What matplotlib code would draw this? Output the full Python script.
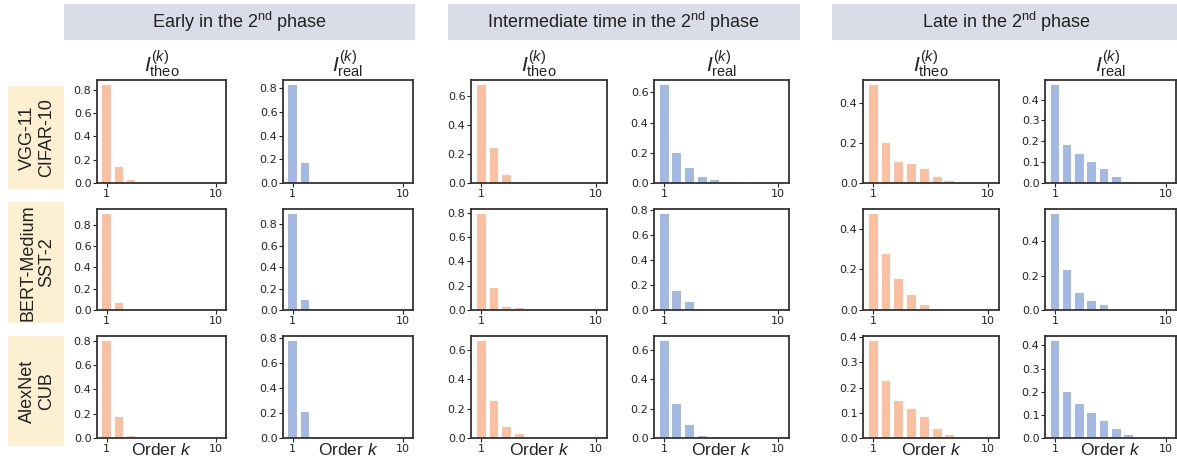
import matplotlib
matplotlib.use("Agg")
import matplotlib.pyplot as plt
from matplotlib.patches import Rectangle
from matplotlib.ticker import MultipleLocator, FixedLocator
import numpy as np

plt.rcParams['mathtext.fontset'] = 'custom'
plt.rcParams['mathtext.rm'] = 'Liberation Sans'
plt.rcParams['mathtext.it'] = 'Liberation Sans:italic'

# ---- data (order k = 1..10) ----
orders = np.arange(1, 11)
phases = ['Early in the 2$^{\\rm nd}$ phase',
          'Intermediate time in the 2$^{\\rm nd}$ phase',
          'Late in the 2$^{\\rm nd}$ phase']
models = ['VGG-11\nCIFAR-10', 'BERT-Medium\nSST-2', 'AlexNet\nCUB']

vgg_theo = [[0.84, 0.135, 0.022, 0.003, 0, 0, 0, 0, 0, 0],
            [0.68, 0.245, 0.055, 0.01, 0.003, 0.002, 0, 0, 0, 0],
            [0.49, 0.20, 0.105, 0.095, 0.07, 0.03, 0.008, 0.003, 0.002, 0]]
vgg_real = [[0.83, 0.167, 0.002, 0, 0, 0, 0, 0, 0, 0],
            [0.65, 0.20, 0.10, 0.04, 0.02, 0.005, 0.004, 0.003, 0, 0],
            [0.47, 0.18, 0.138, 0.103, 0.065, 0.027, 0.007, 0, 0, 0]]
bert_theo = [[0.905, 0.065, 0.012, 0, 0, 0, 0, 0, 0, 0],
             [0.79, 0.18, 0.022, 0.015, 0.005, 0, 0, 0, 0, 0],
             [0.475, 0.275, 0.155, 0.075, 0.025, 0.005, 0.003, 0.002, 0, 0]]
bert_real = [[0.90, 0.09, 0.002, 0, 0, 0, 0, 0, 0, 0],
             [0.767, 0.155, 0.065, 0.01, 0.001, 0, 0, 0, 0, 0],
             [0.56, 0.235, 0.10, 0.055, 0.03, 0.008, 0, 0, 0, 0]]
alex_theo = [[0.80, 0.175, 0.02, 0, 0, 0, 0, 0, 0, 0],
             [0.66, 0.25, 0.072, 0.025, 0.005, 0.004, 0, 0, 0, 0],
             [0.385, 0.225, 0.148, 0.115, 0.082, 0.037, 0.012, 0.004, 0.002, 0.001]]
alex_real = [[0.78, 0.21, 0.005, 0, 0, 0, 0, 0, 0, 0],
             [0.66, 0.23, 0.09, 0.015, 0.006, 0.003, 0.002, 0.002, 0, 0],
             [0.42, 0.20, 0.145, 0.11, 0.072, 0.037, 0.015, 0.002, 0.001, 0]]

theo = [vgg_theo, bert_theo, alex_theo]
real = [vgg_real, bert_real, alex_real]

# y tick step for each panel (rows x 6 columns)
ystep = [[0.2, 0.2, 0.2, 0.2, 0.2, 0.1],
         [0.2, 0.2, 0.2, 0.2, 0.2, 0.2],
         [0.2, 0.2, 0.2, 0.2, 0.1, 0.1]]

theo_color = '#FBBFA2'
real_color = '#A3B8E2'
header_color = '#D9DDE8'
label_bg = '#FDF0D2'
text_color = '#222222'

W, H = 1177, 462
fig = plt.figure(figsize=(W / 100, H / 100), dpi=100)

# axes positions in pixels
col_x = [(97, 226), (283, 413), (471, 607), (654, 789), (863, 999), (1045, 1176)]
row_y = [(80, 183), (209, 310), (336, 438)]


def px_rect(x0, x1, y0, y1):
    return [x0 / W, 1 - y1 / H, (x1 - x0) / W, (y1 - y0) / H]


# header boxes
header_x = [(64, 415), (448, 800), (832, 1180)]
for (x0, x1), title in zip(header_x, phases):
    fig.patches.append(Rectangle((x0 / W, 1 - 40 / H), (x1 - x0) / W, 36 / H,
                                 transform=fig.transFigure, facecolor=header_color,
                                 edgecolor='none', zorder=0))
    fig.text((x0 + x1) / 2 / W, 1 - 22 / H, title, ha='center', va='center',
             fontsize=13, family='Liberation Sans', color=text_color)

# row label boxes
label_y = [(86, 189), (202, 323), (336, 446)]
for (y0, y1), name in zip(label_y, models):
    fig.patches.append(Rectangle((8 / W, 1 - y1 / H), 56 / W, (y1 - y0) / H,
                                 transform=fig.transFigure, facecolor=label_bg,
                                 edgecolor='none', zorder=0))
    fig.text(37 / W, 1 - (y0 + y1) / 2 / H, name, ha='center', va='center',
             rotation=90, fontsize=13, family='Liberation Sans', color=text_color,
             linespacing=1.15)

for r in range(3):
    for c in range(6):
        p = c // 2
        is_theo = (c % 2 == 0)
        vals = theo[r][p] if is_theo else real[r][p]
        color = theo_color if is_theo else real_color
        ax = fig.add_axes(px_rect(col_x[c][0], col_x[c][1], row_y[r][0], row_y[r][1]))
        ax.bar(orders, vals, width=0.7, color=color)
        ax.set_xlim(0.2, 10.85)
        ax.xaxis.set_major_locator(FixedLocator([1, 10]))
        ax.yaxis.set_major_locator(MultipleLocator(ystep[r][c]))
        ax.yaxis.set_major_formatter(matplotlib.ticker.FormatStrFormatter('%.1f'))
        ax.tick_params(labelsize=8, length=3, width=0.8, pad=1, colors=text_color)
        for s in ax.spines.values():
            s.set_color('#333333')
            s.set_linewidth(1.3)
        if r == 0:
            sub = 'theo' if is_theo else 'real'
            ax.set_title('$I^{(k)}_{\\rm ' + sub + '}$', fontsize=15, pad=4,
                         color=text_color)
        if r == 2:
            ax.set_xlabel('Order $k$', fontsize=12.5, labelpad=-8,
                          family='Liberation Sans', color=text_color)

fig.savefig('out.png', dpi=100)
